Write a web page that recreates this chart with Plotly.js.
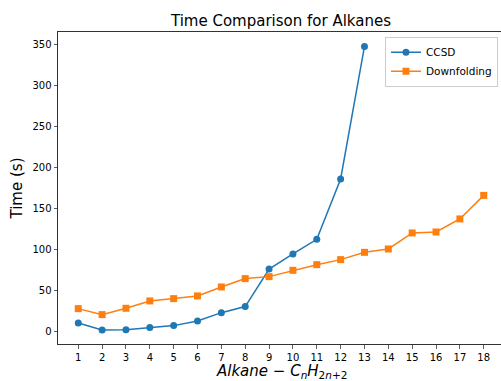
<!DOCTYPE html>
<html>
<head>
<meta charset="utf-8">
<script src="https://cdn.plot.ly/plotly-3.0.1.min.js"></script>
<style>
html,body{margin:0;padding:0;overflow:hidden;background:#fff;}
#chart{width:504px;height:381px;}
</style>
</head>
<body>
<div id="chart"></div>
<script>
const ccsdX = [1,2,3,4,5,6,7,8,9,10,11,12,13];
const ccsdY = [10.6,2.0,2.4,4.9,7.3,13.0,23.1,30.5,76.3,94.6,112.5,186,347.5];
const downX = [1,2,3,4,5,6,7,8,9,10,11,12,13,14,15,16,17,18];
const downY = [28,20.7,28.4,37.4,40.2,43.5,54.4,64.6,67,74.7,81.6,87.7,96.6,100.7,120.2,121.4,137.3,166];
const xTicks = [1,2,3,4,5,6,7,8,9,10,11,12,13,14,15,16,17,18];
const yTicks = [0,50,100,150,200,250,300,350];
const xLabel = '<i>Alkane</i> − <i>C</i><sub><i>n</i></sub><i>H</i><sub>2<i>n</i>+2</sub>';

const font = 'DejaVu Sans, sans-serif';
const traces = [
  {x: ccsdX, y: ccsdY, name: 'CCSD', mode: 'lines+markers', type: 'scatter',
   line: {color: '#1f77b4', width: 1.5}, marker: {symbol: 'circle', size: 7, color: '#1f77b4'}},
  {x: downX, y: downY, name: 'Downfolding', mode: 'lines+markers', type: 'scatter',
   line: {color: '#ff7f0e', width: 1.5}, marker: {symbol: 'square', size: 7, color: '#ff7f0e'}}
];
const layout = {
  width: 504, height: 381,
  margin: {l: 58, r: 0, t: 32, b: 37, pad: 0},
  paper_bgcolor: '#fff', plot_bgcolor: '#fff',
  font: {family: font, size: 10, color: '#000'},
  title: {text: 'Time Comparison for Alkanes', font: {family: font, size: 15, color: '#000'},
          x: 0.5, xref: 'paper', xanchor: 'center', y: 0.945, yref: 'container', yanchor: 'middle'},
  showlegend: true,
  legend: {x: 0.9865, y: 0.985, xanchor: 'right', yanchor: 'top', bgcolor: 'rgba(255,255,255,0.8)',
           bordercolor: '#cccccc', borderwidth: 1, font: {family: font, size: 10.5, color: '#000'},
           tracegroupgap: 0, itemwidth: 30},
  annotations: [{text: xLabel, xref: 'paper', yref: 'paper', x: 0.5, y: -0.05,
                 xanchor: 'center', yanchor: 'top', showarrow: false,
                 font: {family: font, size: 15, color: '#000'}}],
  xaxis: {range: [0.15, 18.85], tickvals: xTicks, ticktext: xTicks.map(String),
          showgrid: false, zeroline: false, showline: true, mirror: true, linecolor: '#333', linewidth: 1,
          ticks: 'outside', ticklen: 3.5, tickwidth: 0.8, tickcolor: '#333',
          tickfont: {family: font, size: 10, color: '#000'}},
  yaxis: {range: [-15.1, 365.1], tickvals: yTicks, ticktext: yTicks.map(String),
          showgrid: false, zeroline: false, showline: true, mirror: true, linecolor: '#333', linewidth: 1,
          ticks: 'outside', ticklen: 3.5, tickwidth: 0.8, tickcolor: '#333',
          tickfont: {family: font, size: 10, color: '#000'},
          title: {text: 'Time (s)', font: {family: font, size: 15, color: '#000'}, standoff: 6}}
};
Plotly.newPlot('chart', traces, layout, {displayModeBar: false, staticPlot: true});
</script>
</body>
</html>
